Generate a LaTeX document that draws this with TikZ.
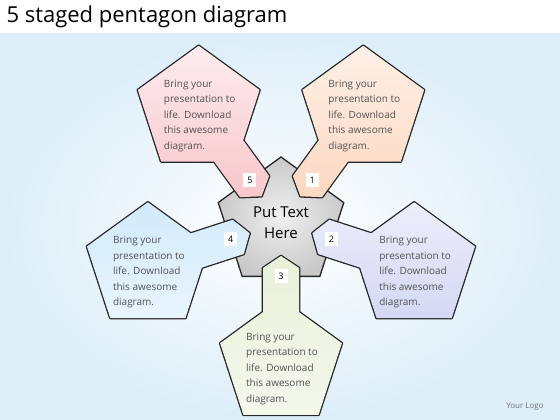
\documentclass[tikz,border=0pt]{standalone}
\usepackage{fontspec}
\setmainfont{Open Sans}
\usetikzlibrary{calc,positioning,shapes.geometric}

\definecolor{bgblue}{RGB}{221,238,249}
\definecolor{pinktop}{RGB}{253,236,238}
\definecolor{pinkbot}{RGB}{248,198,203}
\definecolor{peachtop}{RGB}{254,240,230}
\definecolor{peachbot}{RGB}{252,216,194}
\definecolor{lilactop}{RGB}{236,238,251}
\definecolor{lilacbot}{RGB}{212,216,243}
\definecolor{greentop}{RGB}{232,241,218}
\definecolor{greenbot}{RGB}{243,248,235}
\definecolor{skytop}{RGB}{210,234,251}
\definecolor{skybot}{RGB}{232,245,253}

\begin{document}
\begin{tikzpicture}[x=1pt, y=1pt]
\tikzstyle{petal text}=[align=left, text=black!68, inner sep=0pt, font=\fontsize{10}{15.5}\selectfont]
\tikzstyle{numbox}=[fill=white, minimum width=13pt, minimum height=14pt, inner sep=0pt, font=\fontsize{9}{9}\selectfont]
\tikzstyle{outline}=[preaction={draw=black!85, line width=2.6pt, line join=round}]
\tikzstyle{hubshape}=[regular polygon, regular polygon sides=5, minimum size=132pt, inner sep=0pt, draw=black!85, line width=1.3pt, inner color=gray!12, outer color=gray!42]
% background
\useasboundingbox (0,0) rectangle (560,420);
\fill[white] (0,0) rectangle (560,420);
\shade[inner color=white, outer color=bgblue] (0,0) rectangle (560,386);
\node[anchor=west, font=\fontsize{22}{24}\selectfont] (title) at (3,403) {5 staged pentagon diagram};
% centre
\coordinate (C) at (281,197);
\node[hubshape, font=\fontsize{15}{21}\selectfont, align=center] (hub) at (C) {Put Text\\Here};
% petals
\foreach \a/\ctop/\cbot/\num in {126/pinktop/pinkbot/5, 54/peachtop/peachbot/1, -18/lilactop/lilacbot/2, -90/greentop/greenbot/3, 198/skytop/skybot/4}
{
\coordinate (P) at ($(C)+(\a:140)$);
\shade[top color=\ctop, bottom color=\cbot, outline]
  ($(P)+(90:64)$) -- ($(P)+(162:64)$) -- ($(P)+(234:64)$) -- ($(P)+(306:64)$) -- ($(P)+(18:64)$) -- cycle
  ($(C)+(\a:33)$) -- ($(C)+(\a:45)+({\a-90}:18)$) -- ($(C)+(\a:110)+({\a-90}:18)$)
  -- ($(C)+(\a:110)+({\a+90}:18)$) -- ($(C)+(\a:45)+({\a+90}:18)$) -- cycle;
\node[petal text] (txt\num) at ($(P)+(1,-6)$) {Bring your\\presentation to\\life. Download\\this awesome\\diagram.};
\node[numbox] (num\num) at ($(C)+(\a:53)$) {\num};
}
\node[text=black!55, font=\fontsize{8}{8}\selectfont] (logo) at (525,13) {Your Logo};
\end{tikzpicture}
\end{document}
